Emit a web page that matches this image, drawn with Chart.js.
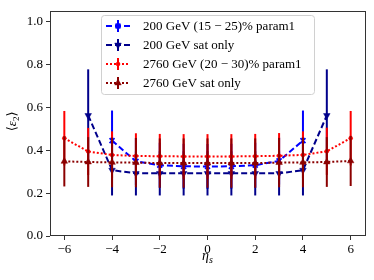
<!DOCTYPE html>
<html>
<head>
<meta charset="utf-8">
<script src="https://cdn.jsdelivr.net/npm/chart.js@4.4.1/dist/chart.umd.min.js"></script>
<style>
  html, body { margin: 0; padding: 0; background: #fff; }
  #wrap { width: 374px; height: 280px; position: relative; }
</style>
</head>
<body>
<div id="wrap"><canvas id="c"></canvas></div>
<script>
// Data

var etaWide   = [-6, -5, -4, -3, -2, -1, 0, 1, 2, 3, 4, 5, 6];   /* 2760 GeV */
var etaSat200 = [-5, -4, -3, -2, -1, 0, 1, 2, 3, 4, 5];           /* 200 GeV sat only */
var etaPar200 = [-4, -3, -2, -1, 0, 1, 2, 3, 4];                  /* 200 GeV param1 */

var par200Vals = [0.445, 0.348, 0.330, 0.325, 0.324, 0.325, 0.330, 0.350, 0.445];
var par200Errs = [0.140, 0.110, 0.105, 0.105, 0.105, 0.105, 0.105, 0.110, 0.140];

var sat200Vals = [0.562, 0.307, 0.292, 0.292, 0.292, 0.292, 0.292, 0.292, 0.292, 0.307, 0.562];
var sat200Errs = [0.215, 0.118, 0.103, 0.103, 0.103, 0.103, 0.103, 0.103, 0.103, 0.118, 0.215];

var par2760Vals = [0.456, 0.394, 0.378, 0.373, 0.372, 0.371, 0.371, 0.371, 0.372, 0.374, 0.378, 0.395, 0.456];
var par2760Errs = [0.127, 0.110, 0.110, 0.106, 0.104, 0.104, 0.104, 0.104, 0.104, 0.106, 0.110, 0.110, 0.127];

var sat2760Vals = [0.348, 0.345, 0.343, 0.342, 0.340, 0.340, 0.340, 0.340, 0.340, 0.342, 0.343, 0.345, 0.350];
var sat2760Errs = [0.117, 0.116, 0.116, 0.115, 0.115, 0.115, 0.115, 0.115, 0.115, 0.115, 0.116, 0.116, 0.117];

var xTicks = [-6, -4, -2, 0, 2, 4, 6];
var yTicks = [0, 0.2, 0.4, 0.6, 0.8, 1.0];

var legendLabels = [
  '200 GeV (15 \u2212 25)% param1',
  '200 GeV sat only',
  '2760 GeV (20 \u2212 30)% param1',
  '2760 GeV sat only'
];

var SERIF = '"Liberation Serif", "DejaVu Serif", serif';

// Build {x, y} points from two arrays
function toPoints(xs, ys) {
  return xs.map(function(x, i) { return { x: x, y: ys[i] }; });
}

// Vertical error bars, drawn just before each dataset's line + markers
var errorBarPlugin = {
  id: 'errorBars',
  beforeDatasetDraw: function(chart, args) {
    var ds = chart.data.datasets[args.index];
    if (!ds.errors) { return; }
    var xs = chart.scales.x, ys = chart.scales.y, ctx = chart.ctx;
    ctx.save();
    ctx.strokeStyle = ds.borderColor;
    ctx.lineWidth = 2;
    ctx.setLineDash([]);
    ds.data.forEach(function(p, i) {
      var px = xs.getPixelForValue(p.x);
      ctx.beginPath();
      ctx.moveTo(px, ys.getPixelForValue(p.y - ds.errors[i]));
      ctx.lineTo(px, ys.getPixelForValue(p.y + ds.errors[i]));
      ctx.stroke();
    });
    ctx.restore();
  }
};

// Frame, axis titles and the in-plot legend
var decorPlugin = {
  id: 'decor',
  afterDraw: function(chart) {
    var ctx = chart.ctx, a = chart.chartArea;

    // frame round the plot
    ctx.save();
    ctx.strokeStyle = '#333';
    ctx.lineWidth = 1;
    ctx.strokeRect(Math.round(a.left) + 0.5, Math.round(a.top) + 0.5,
                   Math.round(a.right - a.left), Math.round(a.bottom - a.top) - 1);
    ctx.restore();

    // x title: eta_s
    ctx.save();
    ctx.fillStyle = '#000';
    ctx.textBaseline = 'alphabetic';
    var cx = (a.left + a.right) / 2;
    ctx.font = 'italic 14px ' + SERIF;
    var w1 = ctx.measureText('\u03b7').width;
    ctx.font = 'italic 10px ' + SERIF;
    var w2 = ctx.measureText('s').width;
    var sx = cx - (w1 + w2) / 2;
    ctx.font = 'italic 14px ' + SERIF;
    ctx.fillText('\u03b7', sx, 260);
    ctx.font = 'italic 10px ' + SERIF;
    ctx.fillText('s', sx + w1, 263);
    ctx.restore();

    // y title: <eps_2>
    ctx.save();
    ctx.translate(16, (a.top + a.bottom) / 2 - 2);
    ctx.rotate(-Math.PI / 2);
    ctx.fillStyle = '#000';
    ctx.textBaseline = 'alphabetic';
    ctx.font = '13px ' + SERIF;
    var lb = ctx.measureText('\u27e8').width;
    ctx.font = 'italic 13px ' + SERIF;
    var ep = ctx.measureText('\u03b5').width;
    ctx.font = '9px ' + SERIF;
    var two = ctx.measureText('2').width;
    ctx.font = '13px ' + SERIF;
    var rb = ctx.measureText('\u27e9').width;
    var x0 = -(lb + ep + two + rb) / 2;
    ctx.font = '13px ' + SERIF;
    ctx.fillText('\u27e8', x0, 0);
    ctx.font = 'italic 13px ' + SERIF;
    ctx.fillText('\u03b5', x0 + lb, 0);
    ctx.font = '9px ' + SERIF;
    ctx.fillText('2', x0 + lb + ep, 3);
    ctx.font = '13px ' + SERIF;
    ctx.fillText('\u27e9', x0 + lb + ep + two, 0);
    ctx.restore();

    // legend box
    var bx = 101, by = 15, bw = 213, bh = 79;
    ctx.save();
    ctx.fillStyle = 'rgba(255,255,255,0.85)';
    ctx.strokeStyle = '#d0d0d0';
    ctx.lineWidth = 1;
    ctx.beginPath();
    ctx.roundRect(bx + 0.5, by + 0.5, bw, bh, 3);
    ctx.fill();
    ctx.stroke();

    var rowY = [26, 45, 64, 83];
    chart.data.datasets.forEach(function(ds, i) {
      var y = rowY[i];
      // error bar sample
      ctx.strokeStyle = ds.borderColor;
      ctx.setLineDash([]);
      ctx.lineWidth = 2;
      ctx.beginPath();
      ctx.moveTo(118, y - 6);
      ctx.lineTo(118, y + 6);
      ctx.stroke();
      // line sample
      ctx.setLineDash(ds.borderDash);
      ctx.lineWidth = ds.borderWidth;
      ctx.beginPath();
      ctx.moveTo(106, y);
      ctx.lineTo(130, y);
      ctx.stroke();
      ctx.setLineDash([]);
      // marker sample
      ctx.fillStyle = ds.borderColor;
      ctx.strokeStyle = ds.borderColor;
      ctx.lineWidth = ds.pointBorderWidth;
      Chart.helpers.drawPoint(ctx, {
        pointStyle: ds.pointStyle,
        rotation: ds.pointRotation || 0,
        radius: ds.pointRadius,
        borderWidth: ds.pointBorderWidth
      }, 118, y);
      // text
      ctx.fillStyle = '#000';
      ctx.font = '13px ' + SERIF;
      ctx.textBaseline = 'middle';
      ctx.fillText(legendLabels[i], 143, y + 1);
    });
    ctx.restore();
  }
};

// Common look for one series
function series(label, xs, vals, errs, color, dash, style, radius, rotation) {
  return {
    label: label,
    data: toPoints(xs, vals),
    errors: errs,
    borderColor: color,
    backgroundColor: color,
    borderWidth: 2,
    borderDash: dash,
    pointStyle: style,
    pointRadius: radius,
    pointHoverRadius: radius,
    pointRotation: rotation,
    pointBackgroundColor: color,
    pointBorderColor: color,
    pointBorderWidth: style === 'crossRot' ? 1.8 : 0.5,
    tension: 0,
    fill: false
  };
}

var datasets = [
  series(legendLabels[0], etaPar200, par200Vals, par200Errs, '#0000ff', [6, 3], 'crossRot', 3.5, 0),
  series(legendLabels[1], etaSat200, sat200Vals, sat200Errs, '#00008b', [6, 3], 'triangle', 3.8, 180),
  series(legendLabels[2], etaWide, par2760Vals, par2760Errs, '#ff0000', [2, 2], 'circle', 2, 0),
  series(legendLabels[3], etaWide, sat2760Vals, sat2760Errs, '#8b0000', [2, 2], 'triangle', 3.8, 0)
];
// later series drawn on top (as in the reference)
datasets.forEach(function(ds, i) { ds.order = datasets.length - i; });

new Chart(document.getElementById('c'), {
  type: 'line',
  data: { datasets: datasets },
  plugins: [errorBarPlugin, decorPlugin],
  options: {
    responsive: true,
    maintainAspectRatio: false,
    animation: false,
    layout: { padding: { left: 0, right: 9, top: 8, bottom: 0 } },
    plugins: {
      legend: { display: false },
      tooltip: { enabled: false }
    },
    scales: {
      x: {
        type: 'linear',
        min: -6.6,
        max: 6.6,
        afterBuildTicks: function(scale) {
          scale.ticks = xTicks.map(function(v) { return { value: v }; });
        },
        afterFit: function(scale) { scale.height = 44; },
        border: { display: false },
        grid: { drawOnChartArea: false, drawTicks: true, tickLength: 4, color: '#333' },
        ticks: {
          padding: 2,
          color: '#000',
          font: { family: SERIF, size: 13 },
          maxRotation: 0,
          callback: function(v) { return String(v).replace('-', '\u2212'); }
        }
      },
      y: {
        type: 'linear',
        min: 0,
        max: 1.05,
        afterBuildTicks: function(scale) {
          scale.ticks = yTicks.map(function(v) { return { value: v }; });
        },
        afterFit: function(scale) { scale.width = 50; },
        border: { display: false },
        grid: { drawOnChartArea: false, drawTicks: true, tickLength: 4, color: '#333' },
        ticks: {
          padding: 3,
          color: '#000',
          font: { family: SERIF, size: 13 },
          callback: function(v) { return v.toFixed(1); }
        }
      }
    }
  }
});
</script>
</body>
</html>
